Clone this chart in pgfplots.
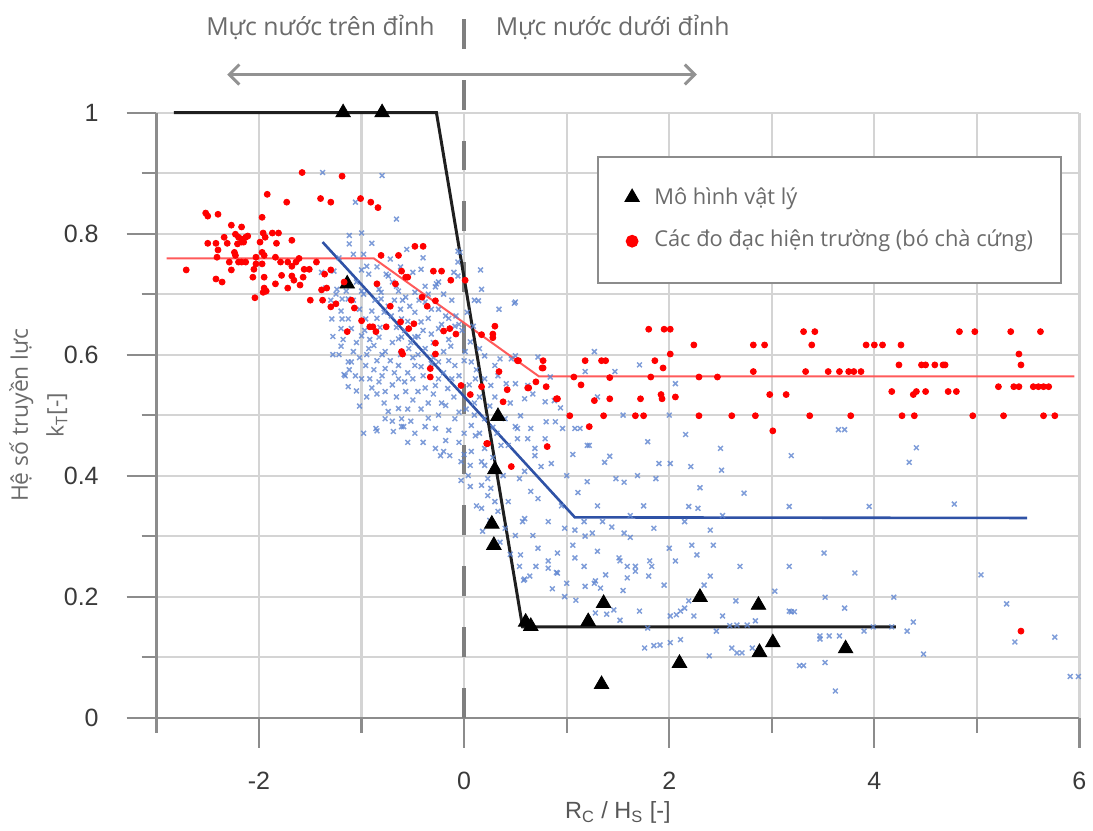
\documentclass[border=0pt]{standalone}
\usepackage{fontspec}
\setmainfont{Open Sans}
\newfontfamily\arialfont{Liberation Sans}
\usepackage{pgfplots}
\pgfplotsset{compat=1.18}
\usetikzlibrary{arrows.meta}

\definecolor{gridgray}{HTML}{D4D4D4}
\definecolor{axisgray}{HTML}{8C8C8C}
\definecolor{ticktext}{HTML}{3A3A3A}
\definecolor{labeltext}{HTML}{6B6B6B}
\definecolor{dashgray}{HTML}{7F7F7F}
\definecolor{bluex}{HTML}{5F85D0}
\definecolor{blueline}{HTML}{2F52A6}
\definecolor{redline}{HTML}{FF5A5A}
\definecolor{reddot}{HTML}{FF0000}

\begin{document}
\begin{tikzpicture}
\begin{axis}[
  at={(0,0)}, anchor=south west,
  scale only axis, width=463bp, height=303.5bp,
  xmin=-3, xmax=6, ymin=0, ymax=1,
  axis lines*=left,
  axis line style={-, draw=axisgray, line width=1.1bp},
  clip=false,
  xtick={-2,0,...,6}, minor xtick={-3,-1,...,5},
  ytick={0,0.2,...,1}, minor ytick={0.1,0.3,...,0.9},
  grid=both,
  major grid style={draw=gridgray, line width=1.1bp},
  minor grid style={draw=gridgray, line width=1.1bp},
  tick align=outside,
  major tick length=15bp, minor tick length=7.5bp,
  tick style={draw=axisgray, line width=1.1bp},
  /pgf/number format/assume math mode=true,
  ticklabel style={font=\arialfont\fontsize{12.6}{15}\selectfont, text=ticktext},
  xticklabel style={yshift=-9bp},
  yticklabel style={xshift=-10.5bp, /pgf/number format/fixed, /pgf/number format/precision=1},
  xlabel={R\textsubscript{C} / H\textsubscript{S} [-]},
  xlabel style={font=\arialfont\fontsize{11.8}{14}\selectfont, text=ticktext!85,
    at={(axis description cs:0.5,-0.157)}, anchor=center},
  ylabel={Hệ số truyền lực\\k\textsubscript{T}[-]},
  ylabel style={font=\fontsize{11.5}{18}\selectfont, text=labeltext, align=center,
    at={(axis description cs:-0.128,0.5)}, anchor=center},
  legend style={at={(0.4773,0.9275)}, anchor=north west, draw=axisgray, line width=1bp,
    fill=white, inner xsep=14bp, inner ysep=15.5bp, row sep=10bp,
    font=\fontsize{11}{13}\selectfont, text=labeltext,
    nodes={inner sep=0pt, text height=8bp, text depth=3bp},
    /tikz/every odd column/.append style={column sep=8bp}},
  legend cell align=left,
]
% dashed crest line and header arrow
\draw[dashgray, line width=2bp, dash pattern=on 15bp off 15.5bp] (axis cs:0,0) -- (axis cs:0,1.173);
\draw[dashgray!85, line width=1.5bp, {Straight Barb[length=5bp,width=10bp]}-{Straight Barb[length=5bp,width=10bp]}]
  (axis cs:-2.31,1.063) -- (axis cs:2.27,1.063);
\node[anchor=east, font=\fontsize{12.5}{15}\selectfont, text=labeltext] at (axis cs:-0.22,1.14) {Mực nước trên đỉnh};
\node[anchor=west, font=\fontsize{12.5}{15}\selectfont, text=labeltext] at (axis cs:0.24,1.14) {Mực nước dưới đỉnh};

% blue crosses (other data set)
\addplot[only marks, mark=x, mark size=1.7bp, draw=bluex, mark options={line width=0.75bp, draw opacity=0.8}, forget plot] coordinates {
(-1.38,0.901) (-0.80,0.896) (-1.06,0.852) (-0.66,0.824) (-1.12,0.797) (-1.00,0.801)
(-0.90,0.784) (-0.56,0.774) (-1.12,0.783) (-0.98,0.766) (-0.04,0.769) (0.16,0.740)
(-0.06,0.753) (-0.42,0.741) (-0.27,0.717) (0.14,0.689) (-0.06,0.771) (-0.10,0.736)
(0.34,0.675) (0.49,0.685) (-1.08,0.766) (-0.72,0.758) (-0.95,0.746) (-0.93,0.733)
(-0.76,0.733) (-0.50,0.736) (-0.25,0.720) (-0.38,0.713) (-0.83,0.708) (-0.64,0.705)
(-1.00,0.705) (-1.19,0.692) (-0.81,0.692) (-0.57,0.695) (-1.29,0.659) (-1.19,0.659)
(-1.10,0.643) (-0.90,0.672) (-0.71,0.664) (-0.48,0.670) (-0.32,0.675) (-0.18,0.664)
(0.50,0.687) (-0.09,0.647) (0.09,0.647) (-1.20,0.643) (-1.00,0.631) (-0.83,0.629)
(-0.64,0.626) (-0.48,0.629) (-0.32,0.634) (-1.20,0.614) (-1.08,0.605) (-0.93,0.610)
(-0.77,0.605) (-0.54,0.610) (-0.38,0.610) (-0.13,0.614) (0.01,0.605) (0.20,0.598)
(-1.10,0.588) (-0.96,0.582) (-0.77,0.577) (-0.64,0.582) (-0.48,0.582) (-0.25,0.588)
(-0.09,0.582) (0.07,0.588) (0.30,0.582) (0.46,0.593) (0.72,0.596) (-1.17,0.567)
(-1.00,0.560) (-1.13,0.547) (-0.83,0.555) (-0.64,0.560) (-0.77,0.539) (-0.57,0.539)
(-0.45,0.539) (-0.28,0.549) (-0.16,0.544) (0.11,0.560) (0.26,0.549) (0.33,0.565)
(0.59,0.527) (0.79,0.522) (-0.64,0.511) (-0.74,0.506) (-0.86,0.478) (-0.61,0.481)
(-0.48,0.470) (-0.38,0.481) (-0.28,0.478) (-0.18,0.516) (-0.09,0.494) (0.07,0.483)
(0.20,0.494) (0.40,0.494) (0.52,0.478) (0.65,0.478) (0.80,0.489) (0.88,0.524)
(-0.18,0.458) (0.11,0.466) (0.20,0.445) (-0.28,0.445) (-0.23,0.433) (0.07,0.440)
(0.36,0.450) (0.52,0.461) (0.69,0.445) (0.79,0.461) (0.06,0.417) (0.20,0.417)
(0.59,0.407) (0.75,0.415) (-1.13,0.588) (-1.16,0.565) (-1.06,0.565) (-0.85,0.535)
(-0.85,0.474) (-0.69,0.473) (-0.59,0.481) (-0.14,0.433) (-0.03,0.392) (0.06,0.382)
(-0.77,0.494) (-0.61,0.494) (-0.03,0.423) (0.17,0.423) (0.23,0.395) (0.26,0.379)
(0.25,0.326) (0.30,0.357) (1.27,0.605) (1.18,0.572) (1.47,0.572) (1.71,0.583)
(2.06,0.552) (0.84,0.563) (0.50,0.552) (0.67,0.535) (0.94,0.512) (0.55,0.499)
(0.89,0.489) (0.96,0.478) (1.08,0.478) (1.13,0.478) (1.22,0.450) (1.06,0.435)
(1.42,0.432) (1.37,0.422) (1.79,0.456) (1.90,0.420) (2.01,0.420) (2.16,0.468)
(2.21,0.415) (2.50,0.445) (2.51,0.409) (1.48,0.395) (1.56,0.389) (1.69,0.400)
(1.87,0.395) (2.73,0.371) (3.19,0.433) (3.17,0.349) (1.11,0.372) (2.19,0.349)
(2.28,0.346) (1.62,0.334) (2.15,0.324) (2.52,0.334) (1.35,0.324) (1.44,0.315)
(1.85,0.313) (1.17,0.324) (1.56,0.305) (1.62,0.298) (1.08,0.310) (1.18,0.300)
(1.25,0.305) (1.06,0.285) (1.30,0.275) (2.22,0.285) (2.27,0.269) (2.43,0.285)
(2.06,0.259) (1.81,0.259) (1.83,0.250) (1.67,0.250) (1.51,0.264) (1.52,0.259)
(1.17,0.250) (1.08,0.264) (0.91,0.272) (0.82,0.259) (0.70,0.250) (0.54,0.250)
(2.69,0.250) (3.17,0.250) (2.40,0.234) (1.59,0.231) (1.80,0.234) (1.28,0.226)
(0.59,0.229) (2.34,0.219) (0.50,0.598) (0.35,0.593) (0.62,0.549) (0.41,0.552)
(0.50,0.481) (0.43,0.450) (0.62,0.461) (0.69,0.433) (0.54,0.395) (0.65,0.374)
(0.43,0.357) (0.72,0.362) (0.82,0.324) (0.98,0.313) (0.59,0.329) (0.50,0.301)
(0.67,0.301) (0.57,0.324) (0.33,0.341) (0.40,0.313) (0.55,0.269) (0.04,0.400)
(0.17,0.384) (0.17,0.346) (0.18,0.308) (0.23,0.367) (0.82,0.247) (0.58,0.227)
(0.64,0.234) (0.91,0.239) (0.86,0.213) (1.00,0.222) (1.18,0.217) (1.27,0.222)
(1.33,0.214) (1.38,0.236) (1.59,0.250) (1.67,0.242) (1.95,0.219) (1.09,0.194)
(1.28,0.173) (1.39,0.171) (1.46,0.178) (1.52,0.161) (1.71,0.176) (1.79,0.148)
(2.01,0.168) (2.07,0.170) (2.11,0.176) (2.15,0.181) (2.19,0.193) (2.24,0.168)
(2.52,0.168) (2.65,0.193) (2.46,0.143) (2.59,0.152) (2.66,0.153) (2.76,0.153)
(2.84,0.160) (1.76,0.115) (1.85,0.119) (1.91,0.120) (2.01,0.124) (2.11,0.129)
(2.39,0.102) (2.61,0.115) (2.66,0.107) (2.71,0.107) (2.81,0.115) (3.03,0.209)
(3.17,0.176) (3.81,0.239) (3.52,0.199) (3.71,0.181) (3.19,0.175) (3.22,0.175)
(3.47,0.135) (3.47,0.130) (3.56,0.135) (3.66,0.135) (3.90,0.143) (3.99,0.150)
(4.17,0.150) (4.19,0.199) (4.38,0.158) (4.32,0.143) (4.48,0.105) (3.52,0.091)
(3.27,0.086) (3.31,0.086) (3.62,0.044) (5.04,0.236) (5.29,0.188) (5.37,0.125)
(5.76,0.133) (5.91,0.068) (5.99,0.068) (3.65,0.476) (3.71,0.476) (4.41,0.446)
(4.34,0.422) (3.95,0.349) (4.78,0.353) (3.51,0.272) (-1.39,0.736) (-1.27,0.738)
(-1.24,0.708) (-1.13,0.692) (-1.20,0.672) (-1.13,0.659) (-0.81,0.703) (-0.74,0.730)
(-0.66,0.713) (-0.48,0.703) (-0.28,0.712) (-0.38,0.687) (-0.25,0.675) (-0.74,0.680)
(-0.96,0.659) (-0.61,0.659) (-0.42,0.654) (-0.25,0.643) (-0.61,0.629) (-0.06,0.730)
(0.17,0.708) (-0.08,0.664) (0.06,0.621) (-1.05,0.720) (-0.98,0.700) (-0.87,0.690)
(-0.70,0.720) (-0.60,0.690) (-0.53,0.680) (-0.44,0.690) (-0.35,0.700) (-0.20,0.700)
(-0.12,0.690) (-1.02,0.675) (-0.85,0.660) (-0.66,0.645) (-0.55,0.655) (-0.40,0.640)
(-0.15,0.625) (-0.02,0.640) (-1.05,0.620) (-0.88,0.615) (-0.70,0.620) (-0.45,0.600)
(-0.30,0.595) (-0.20,0.605) (-1.02,0.595) (-0.85,0.590) (-0.55,0.570) (-0.40,0.565)
(-0.20,0.570) (-0.05,0.565) (0.12,0.575) (-0.92,0.560) (-0.70,0.550) (-0.50,0.525)
(-0.35,0.520) (-0.10,0.530) (0.02,0.510) (0.15,0.530) (0.25,0.515) (-0.95,0.530)
(-1.02,0.515) (-0.25,0.500) (0.10,0.500) (0.32,0.470) (0.45,0.520) (-0.40,0.455)
(-0.05,0.455) (0.28,0.430) (0.38,0.400) (0.12,0.350) (0.35,0.290) (0.45,0.270)
(0.72,0.280) (0.95,0.350) (1.00,0.400) (0.85,0.420) (1.20,0.390) (1.30,0.350)
(0.90,0.240) (0.98,0.200) (1.55,0.210) (2.00,0.280) (2.30,0.380) (2.00,0.500)
(1.55,0.500) (1.30,0.530) (2.40,0.310) (1.75,0.350) (1.20,0.450)
(-1.25,0.700) (-1.15,0.705) (-1.08,0.690) (-1.18,0.625) (-1.28,0.630) (-1.22,0.600)
(-1.12,0.575) (-0.97,0.640) (-0.92,0.625) (-0.82,0.645) (-0.78,0.670) (-0.68,0.690)
(-0.62,0.675) (-0.58,0.640) (-0.52,0.620) (-0.45,0.630) (-0.35,0.660) (-0.30,0.620)
(-0.22,0.650) (-0.15,0.660) (-0.05,0.650) (0.03,0.670) (0.10,0.690) (-0.95,0.600)
(-0.80,0.600) (-0.72,0.590) (-0.62,0.600) (-0.50,0.595) (-0.42,0.580) (-0.32,0.585)
(-0.15,0.590) (0.00,0.590) (0.15,0.610) (-0.88,0.575) (-0.80,0.565) (-0.68,0.570)
(-0.58,0.555) (-0.50,0.560) (-0.38,0.545) (-0.25,0.560) (-0.12,0.560) (0.05,0.550)
(0.20,0.560) (-0.90,0.545) (-0.78,0.520) (-0.66,0.530) (-0.55,0.510) (-0.42,0.510)
(-0.30,0.535) (-0.22,0.520) (-0.05,0.505) (0.10,0.520) (0.30,0.530) (-0.70,0.490)
(-0.52,0.490) (-0.35,0.495) (-0.15,0.475) (0.00,0.470) (0.15,0.470) (0.28,0.480)
(-0.55,0.455) (-0.20,0.440) (0.00,0.435) (-1.30,0.690) (-1.35,0.710) (-1.00,0.740)
(-0.85,0.745) (-0.62,0.745) (-0.40,0.760) (-1.22,0.760) (-1.28,0.600) (-0.98,0.470)
(-1.05,0.540)
};

% fitted lines
\addplot[redline, line width=1bp, forget plot] coordinates {(-2.90,0.759) (-0.88,0.759) (0.73,0.564) (5.95,0.564)};
\addplot[blueline, line width=1.3bp, forget plot] coordinates {(-1.38,0.786) (1.08,0.331) (5.49,0.330)};
\addplot[black!88, line width=1.5bp, forget plot] coordinates {(-2.83,1.0) (-0.27,1.0) (0.57,0.150) (4.21,0.150)};

% physical model results
\addplot[only marks, mark=triangle*, mark size=4.2bp, black,
  legend image code/.code={\draw[mark=triangle*, mark size=3.6bp, black] plot coordinates {(0bp,1bp)};}] coordinates {
(-1.18,1.0) (-0.80,1.0) (-1.14,0.717) (0.33,0.498) (0.30,0.410) (0.27,0.320)
(0.29,0.285) (0.60,0.158) (0.65,0.151) (1.21,0.159) (1.36,0.189) (1.34,0.055)
(2.10,0.090) (2.30,0.199) (2.87,0.186) (2.88,0.108) (3.01,0.124) (3.72,0.114)
};
\addlegendentry{Mô hình vật lý}

% field measurements
\addplot[only marks, mark=*, mark size=1.5bp, reddot, mark options={draw=reddot, fill=reddot},
  legend image code/.code={\draw[mark=*, mark size=2.7bp, reddot] plot coordinates {(0bp,0bp)};}] coordinates {
(-1.58,0.901) (-1.19,0.895) (-1.92,0.865) (-1.73,0.852) (-1.40,0.858) (-1.30,0.852)
(-1.01,0.858) (-0.91,0.852) (-0.84,0.843) (-2.52,0.834) (-2.50,0.829) (-2.40,0.832)
(-1.97,0.827) (-2.27,0.814) (-2.17,0.811) (-2.34,0.794) (-2.23,0.799) (-2.20,0.794)
(-2.17,0.791) (-2.13,0.794) (-2.11,0.796) (-1.96,0.801) (-1.94,0.794) (-1.87,0.801)
(-1.81,0.801) (-1.68,0.789) (-2.50,0.784) (-2.42,0.784) (-2.31,0.784) (-2.21,0.783)
(-2.17,0.786) (-2.15,0.786) (-1.99,0.786) (-1.83,0.784) (-2.40,0.773) (-2.24,0.769)
(-1.97,0.769) (-0.48,0.779) (-0.40,0.779) (-2.41,0.761) (-2.23,0.764) (-2.03,0.761)
(-1.95,0.764) (-1.84,0.761) (-1.61,0.759) (-2.29,0.753) (-2.20,0.753) (-2.17,0.753)
(-2.13,0.753) (-2.03,0.750) (-1.97,0.750) (-1.79,0.753) (-1.72,0.753) (-1.64,0.753)
(-1.44,0.753) (-0.81,0.764) (-0.64,0.764) (-2.71,0.740) (-2.27,0.740) (-2.05,0.741)
(-1.68,0.746) (-1.56,0.741) (-1.51,0.741) (-1.30,0.740) (-2.06,0.728) (-1.95,0.728)
(-1.78,0.731) (-1.68,0.730) (-1.66,0.723) (-1.57,0.728) (-1.36,0.733) (-2.42,0.725)
(-2.36,0.720) (-1.84,0.717) (-1.72,0.710) (-1.60,0.715) (-1.95,0.710) (-1.93,0.705)
(-1.96,0.703) (-1.39,0.707) (-1.34,0.710) (-1.17,0.720) (-2.04,0.694) (-1.50,0.690)
(-1.38,0.690) (-1.30,0.679) (-1.25,0.684) (-1.10,0.690) (-0.85,0.717) (-0.67,0.717)
(-0.61,0.738) (-0.57,0.728) (-0.55,0.728) (-0.30,0.738) (-0.22,0.738) (-0.13,0.723)
(-1.00,0.656) (-1.14,0.638) (-0.92,0.646) (-0.89,0.646) (-0.76,0.646) (-0.62,0.654)
(-0.49,0.651) (-0.41,0.695) (-0.28,0.689) (-0.36,0.680) (-0.86,0.638) (-0.20,0.639)
(-0.14,0.643) (0.28,0.634) (-1.07,0.677) (-0.72,0.680) (-0.54,0.643) (-0.08,0.634)
(-0.61,0.605) (-0.60,0.601) (-0.28,0.619) (-0.28,0.601) (-0.33,0.577) (-0.33,0.563)
(0.52,0.590) (0.77,0.590) (0.77,0.578) (0.34,0.572) (0.42,0.542) (0.38,0.522)
(0.62,0.545) (0.70,0.555) (0.80,0.547) (0.90,0.527) (-0.03,0.549) (0.06,0.534)
(0.23,0.453) (0.46,0.415) (0.81,0.448) (0.17,0.547) (0.01,0.723) (0.30,0.647)
(0.28,0.628) (0.17,0.633) (1.80,0.642) (1.95,0.642) (2.01,0.642) (2.24,0.616)
(2.82,0.616) (2.93,0.616) (2.01,0.601) (0.53,0.590) (1.18,0.590) (1.34,0.590)
(1.38,0.590) (1.86,0.590) (0.76,0.578) (1.94,0.578) (2.82,0.572) (0.63,0.545)
(1.07,0.563) (1.42,0.562) (1.82,0.563) (2.29,0.563) (2.47,0.563) (1.14,0.550)
(0.91,0.527) (1.27,0.524) (1.42,0.527) (1.72,0.527) (1.92,0.534) (1.93,0.527)
(2.06,0.530) (2.98,0.534) (3.14,0.534) (1.03,0.499) (1.36,0.499) (1.67,0.499)
(1.75,0.499) (2.29,0.499) (2.61,0.499) (2.84,0.499) (1.22,0.481) (3.01,0.474)
(0.22,0.453) (3.31,0.638) (3.42,0.638) (4.83,0.638) (4.98,0.638) (5.33,0.638)
(5.62,0.638) (3.39,0.616) (3.92,0.616) (4.00,0.616) (4.08,0.616) (4.26,0.616)
(5.41,0.601) (4.24,0.583) (4.46,0.583) (4.50,0.583) (4.59,0.583) (4.67,0.583)
(4.69,0.583) (5.43,0.583) (3.33,0.572) (3.55,0.572) (3.66,0.572) (3.75,0.572)
(3.80,0.572) (3.87,0.572) (5.21,0.547) (5.36,0.547) (5.41,0.547) (5.55,0.547)
(5.60,0.547) (5.65,0.547) (5.70,0.547) (4.17,0.539) (4.38,0.534) (4.41,0.539)
(4.50,0.539) (4.72,0.539) (4.80,0.539) (3.37,0.499) (3.77,0.499) (4.27,0.499)
(4.39,0.499) (4.96,0.499) (5.26,0.499) (5.65,0.499) (5.76,0.499) (5.43,0.143)
};
\addlegendentry{Các đo đạc hiện trường (bó chà cứng)}
\end{axis}
\path[use as bounding box] (-78.5bp,-55.5bp) rectangle (468bp,360bp);
\end{tikzpicture}
\end{document}
